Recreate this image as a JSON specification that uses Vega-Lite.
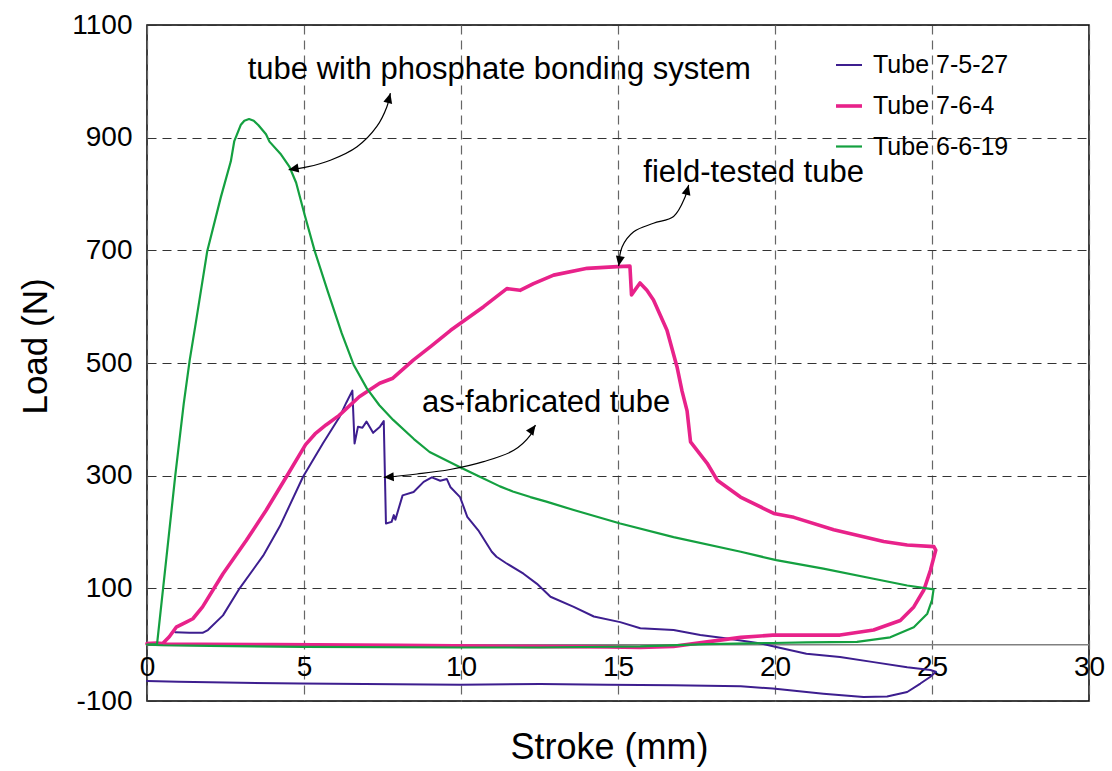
{
  "$schema": "https://vega.github.io/schema/vega-lite/v6.json",
  "width": 942,
  "height": 676,
  "autosize": {"type": "none"},
  "padding": {"left": 147, "top": 25, "right": 23, "bottom": 70},
  "background": "white",
  "config": {
    "font": "Liberation Sans",
    "view": {"stroke": "black", "strokeWidth": 1.5}
  },
  "datasets": {
    "curves": [
      {"tube": "Tube 7-5-27", "stroke": 0.90, "load": 22},
      {"tube": "Tube 7-5-27", "stroke": 1.35, "load": 21},
      {"tube": "Tube 7-5-27", "stroke": 1.77, "load": 21},
      {"tube": "Tube 7-5-27", "stroke": 1.94, "load": 26},
      {"tube": "Tube 7-5-27", "stroke": 2.42, "load": 52},
      {"tube": "Tube 7-5-27", "stroke": 2.95, "load": 100},
      {"tube": "Tube 7-5-27", "stroke": 3.70, "load": 158},
      {"tube": "Tube 7-5-27", "stroke": 4.23, "load": 210},
      {"tube": "Tube 7-5-27", "stroke": 4.97, "load": 298},
      {"tube": "Tube 7-5-27", "stroke": 5.60, "load": 357},
      {"tube": "Tube 7-5-27", "stroke": 6.13, "load": 404},
      {"tube": "Tube 7-5-27", "stroke": 6.35, "load": 430},
      {"tube": "Tube 7-5-27", "stroke": 6.54, "load": 451},
      {"tube": "Tube 7-5-27", "stroke": 6.61, "load": 357},
      {"tube": "Tube 7-5-27", "stroke": 6.72, "load": 387},
      {"tube": "Tube 7-5-27", "stroke": 6.86, "load": 385},
      {"tube": "Tube 7-5-27", "stroke": 6.99, "load": 396},
      {"tube": "Tube 7-5-27", "stroke": 7.20, "load": 376},
      {"tube": "Tube 7-5-27", "stroke": 7.42, "load": 387},
      {"tube": "Tube 7-5-27", "stroke": 7.54, "load": 397},
      {"tube": "Tube 7-5-27", "stroke": 7.61, "load": 215},
      {"tube": "Tube 7-5-27", "stroke": 7.79, "load": 218},
      {"tube": "Tube 7-5-27", "stroke": 7.86, "load": 230},
      {"tube": "Tube 7-5-27", "stroke": 7.91, "load": 222},
      {"tube": "Tube 7-5-27", "stroke": 8.14, "load": 265},
      {"tube": "Tube 7-5-27", "stroke": 8.49, "load": 271},
      {"tube": "Tube 7-5-27", "stroke": 8.81, "load": 289},
      {"tube": "Tube 7-5-27", "stroke": 9.07, "load": 297},
      {"tube": "Tube 7-5-27", "stroke": 9.34, "load": 291},
      {"tube": "Tube 7-5-27", "stroke": 9.55, "load": 294},
      {"tube": "Tube 7-5-27", "stroke": 9.66, "load": 280},
      {"tube": "Tube 7-5-27", "stroke": 9.97, "load": 262},
      {"tube": "Tube 7-5-27", "stroke": 10.20, "load": 227},
      {"tube": "Tube 7-5-27", "stroke": 10.55, "load": 203},
      {"tube": "Tube 7-5-27", "stroke": 10.98, "load": 165},
      {"tube": "Tube 7-5-27", "stroke": 11.13, "load": 156},
      {"tube": "Tube 7-5-27", "stroke": 11.43, "load": 145},
      {"tube": "Tube 7-5-27", "stroke": 11.99, "load": 126},
      {"tube": "Tube 7-5-27", "stroke": 12.42, "load": 108},
      {"tube": "Tube 7-5-27", "stroke": 12.85, "load": 85},
      {"tube": "Tube 7-5-27", "stroke": 13.59, "load": 67},
      {"tube": "Tube 7-5-27", "stroke": 14.23, "load": 50},
      {"tube": "Tube 7-5-27", "stroke": 15.07, "load": 40},
      {"tube": "Tube 7-5-27", "stroke": 15.71, "load": 29},
      {"tube": "Tube 7-5-27", "stroke": 16.77, "load": 26},
      {"tube": "Tube 7-5-27", "stroke": 17.62, "load": 17},
      {"tube": "Tube 7-5-27", "stroke": 18.48, "load": 11},
      {"tube": "Tube 7-5-27", "stroke": 19.55, "load": 2},
      {"tube": "Tube 7-5-27", "stroke": 20.04, "load": -4},
      {"tube": "Tube 7-5-27", "stroke": 21.00, "load": -16},
      {"tube": "Tube 7-5-27", "stroke": 22.07, "load": -22},
      {"tube": "Tube 7-5-27", "stroke": 23.14, "load": -31},
      {"tube": "Tube 7-5-27", "stroke": 24.21, "load": -40},
      {"tube": "Tube 7-5-27", "stroke": 24.95, "load": -45},
      {"tube": "Tube 7-5-27", "stroke": 25.12, "load": -48},
      {"tube": "Tube 7-5-27", "stroke": 24.95, "load": -57},
      {"tube": "Tube 7-5-27", "stroke": 24.63, "load": -69},
      {"tube": "Tube 7-5-27", "stroke": 24.21, "load": -84},
      {"tube": "Tube 7-5-27", "stroke": 23.57, "load": -92},
      {"tube": "Tube 7-5-27", "stroke": 22.82, "load": -93},
      {"tube": "Tube 7-5-27", "stroke": 21.54, "load": -87},
      {"tube": "Tube 7-5-27", "stroke": 19.93, "load": -78},
      {"tube": "Tube 7-5-27", "stroke": 18.91, "load": -74},
      {"tube": "Tube 7-5-27", "stroke": 16.77, "load": -72},
      {"tube": "Tube 7-5-27", "stroke": 14.66, "load": -71},
      {"tube": "Tube 7-5-27", "stroke": 12.52, "load": -70},
      {"tube": "Tube 7-5-27", "stroke": 9.97, "load": -71},
      {"tube": "Tube 7-5-27", "stroke": 4.88, "load": -69},
      {"tube": "Tube 7-5-27", "stroke": 1.00, "load": -66},
      {"tube": "Tube 7-5-27", "stroke": 0.00, "load": -64.5},

      {"tube": "Tube 7-6-4", "stroke": 0.00, "load": 2},
      {"tube": "Tube 7-6-4", "stroke": 0.30, "load": 3},
      {"tube": "Tube 7-6-4", "stroke": 0.50, "load": 2},
      {"tube": "Tube 7-6-4", "stroke": 0.71, "load": 14},
      {"tube": "Tube 7-6-4", "stroke": 0.93, "load": 31},
      {"tube": "Tube 7-6-4", "stroke": 1.25, "load": 40},
      {"tube": "Tube 7-6-4", "stroke": 1.46, "load": 46},
      {"tube": "Tube 7-6-4", "stroke": 1.77, "load": 67},
      {"tube": "Tube 7-6-4", "stroke": 2.42, "load": 126},
      {"tube": "Tube 7-6-4", "stroke": 3.16, "load": 185},
      {"tube": "Tube 7-6-4", "stroke": 3.80, "load": 239},
      {"tube": "Tube 7-6-4", "stroke": 4.44, "load": 298},
      {"tube": "Tube 7-6-4", "stroke": 5.05, "load": 355},
      {"tube": "Tube 7-6-4", "stroke": 5.35, "load": 374},
      {"tube": "Tube 7-6-4", "stroke": 5.70, "load": 390},
      {"tube": "Tube 7-6-4", "stroke": 6.12, "load": 407},
      {"tube": "Tube 7-6-4", "stroke": 6.76, "load": 440},
      {"tube": "Tube 7-6-4", "stroke": 7.41, "load": 464},
      {"tube": "Tube 7-6-4", "stroke": 7.83, "load": 473},
      {"tube": "Tube 7-6-4", "stroke": 8.48, "load": 505},
      {"tube": "Tube 7-6-4", "stroke": 9.05, "load": 530},
      {"tube": "Tube 7-6-4", "stroke": 9.67, "load": 558},
      {"tube": "Tube 7-6-4", "stroke": 10.72, "load": 600},
      {"tube": "Tube 7-6-4", "stroke": 11.46, "load": 632},
      {"tube": "Tube 7-6-4", "stroke": 11.88, "load": 629},
      {"tube": "Tube 7-6-4", "stroke": 12.31, "load": 641},
      {"tube": "Tube 7-6-4", "stroke": 12.95, "load": 656},
      {"tube": "Tube 7-6-4", "stroke": 14.02, "load": 668},
      {"tube": "Tube 7-6-4", "stroke": 14.98, "load": 671},
      {"tube": "Tube 7-6-4", "stroke": 15.38, "load": 672},
      {"tube": "Tube 7-6-4", "stroke": 15.43, "load": 621},
      {"tube": "Tube 7-6-4", "stroke": 15.70, "load": 642},
      {"tube": "Tube 7-6-4", "stroke": 15.92, "load": 629},
      {"tube": "Tube 7-6-4", "stroke": 16.13, "load": 612},
      {"tube": "Tube 7-6-4", "stroke": 16.56, "load": 558},
      {"tube": "Tube 7-6-4", "stroke": 16.88, "load": 493},
      {"tube": "Tube 7-6-4", "stroke": 17.04, "load": 450},
      {"tube": "Tube 7-6-4", "stroke": 17.20, "load": 415},
      {"tube": "Tube 7-6-4", "stroke": 17.31, "load": 360},
      {"tube": "Tube 7-6-4", "stroke": 17.84, "load": 322},
      {"tube": "Tube 7-6-4", "stroke": 18.16, "load": 292},
      {"tube": "Tube 7-6-4", "stroke": 18.90, "load": 262},
      {"tube": "Tube 7-6-4", "stroke": 19.96, "load": 233},
      {"tube": "Tube 7-6-4", "stroke": 20.60, "load": 226},
      {"tube": "Tube 7-6-4", "stroke": 21.87, "load": 204},
      {"tube": "Tube 7-6-4", "stroke": 23.46, "load": 183},
      {"tube": "Tube 7-6-4", "stroke": 24.21, "load": 177},
      {"tube": "Tube 7-6-4", "stroke": 25.06, "load": 174},
      {"tube": "Tube 7-6-4", "stroke": 25.12, "load": 168},
      {"tube": "Tube 7-6-4", "stroke": 24.95, "load": 132},
      {"tube": "Tube 7-6-4", "stroke": 24.74, "load": 97},
      {"tube": "Tube 7-6-4", "stroke": 24.42, "load": 67},
      {"tube": "Tube 7-6-4", "stroke": 23.99, "load": 43},
      {"tube": "Tube 7-6-4", "stroke": 23.14, "load": 26},
      {"tube": "Tube 7-6-4", "stroke": 22.07, "load": 17},
      {"tube": "Tube 7-6-4", "stroke": 20.68, "load": 17},
      {"tube": "Tube 7-6-4", "stroke": 19.93, "load": 17},
      {"tube": "Tube 7-6-4", "stroke": 18.91, "load": 13},
      {"tube": "Tube 7-6-4", "stroke": 17.84, "load": 5},
      {"tube": "Tube 7-6-4", "stroke": 16.77, "load": -3},
      {"tube": "Tube 7-6-4", "stroke": 15.71, "load": -5},
      {"tube": "Tube 7-6-4", "stroke": 14.66, "load": -4},
      {"tube": "Tube 7-6-4", "stroke": 12.00, "load": -3},
      {"tube": "Tube 7-6-4", "stroke": 8.00, "load": -1},
      {"tube": "Tube 7-6-4", "stroke": 4.00, "load": 0},
      {"tube": "Tube 7-6-4", "stroke": 0.00, "load": 1},

      {"tube": "Tube 6-6-19", "stroke": 0.00, "load": 0},
      {"tube": "Tube 6-6-19", "stroke": 0.32, "load": 1},
      {"tube": "Tube 6-6-19", "stroke": 0.61, "load": 150},
      {"tube": "Tube 6-6-19", "stroke": 0.90, "load": 300},
      {"tube": "Tube 6-6-19", "stroke": 1.17, "load": 428},
      {"tube": "Tube 6-6-19", "stroke": 1.36, "load": 505},
      {"tube": "Tube 6-6-19", "stroke": 1.55, "load": 570},
      {"tube": "Tube 6-6-19", "stroke": 1.92, "load": 699},
      {"tube": "Tube 6-6-19", "stroke": 2.35, "load": 794},
      {"tube": "Tube 6-6-19", "stroke": 2.67, "load": 858},
      {"tube": "Tube 6-6-19", "stroke": 2.78, "load": 894},
      {"tube": "Tube 6-6-19", "stroke": 2.86, "load": 905},
      {"tube": "Tube 6-6-19", "stroke": 2.99, "load": 923},
      {"tube": "Tube 6-6-19", "stroke": 3.10, "load": 930},
      {"tube": "Tube 6-6-19", "stroke": 3.25, "load": 933},
      {"tube": "Tube 6-6-19", "stroke": 3.40, "load": 930},
      {"tube": "Tube 6-6-19", "stroke": 3.55, "load": 922},
      {"tube": "Tube 6-6-19", "stroke": 3.79, "load": 906},
      {"tube": "Tube 6-6-19", "stroke": 3.90, "load": 893},
      {"tube": "Tube 6-6-19", "stroke": 4.27, "load": 870},
      {"tube": "Tube 6-6-19", "stroke": 4.54, "load": 848},
      {"tube": "Tube 6-6-19", "stroke": 4.75, "load": 820},
      {"tube": "Tube 6-6-19", "stroke": 5.02, "load": 763},
      {"tube": "Tube 6-6-19", "stroke": 5.34, "load": 699},
      {"tube": "Tube 6-6-19", "stroke": 5.77, "load": 625},
      {"tube": "Tube 6-6-19", "stroke": 6.20, "load": 553},
      {"tube": "Tube 6-6-19", "stroke": 6.58, "load": 497},
      {"tube": "Tube 6-6-19", "stroke": 7.00, "load": 455},
      {"tube": "Tube 6-6-19", "stroke": 7.40, "load": 425},
      {"tube": "Tube 6-6-19", "stroke": 7.84, "load": 399},
      {"tube": "Tube 6-6-19", "stroke": 8.50, "load": 365},
      {"tube": "Tube 6-6-19", "stroke": 9.00, "load": 342},
      {"tube": "Tube 6-6-19", "stroke": 9.97, "load": 315},
      {"tube": "Tube 6-6-19", "stroke": 10.60, "load": 298},
      {"tube": "Tube 6-6-19", "stroke": 11.24, "load": 281},
      {"tube": "Tube 6-6-19", "stroke": 11.65, "load": 272},
      {"tube": "Tube 6-6-19", "stroke": 12.21, "load": 262},
      {"tube": "Tube 6-6-19", "stroke": 12.72, "load": 254},
      {"tube": "Tube 6-6-19", "stroke": 13.59, "load": 239},
      {"tube": "Tube 6-6-19", "stroke": 15.07, "load": 215},
      {"tube": "Tube 6-6-19", "stroke": 16.77, "load": 191},
      {"tube": "Tube 6-6-19", "stroke": 18.91, "load": 165},
      {"tube": "Tube 6-6-19", "stroke": 20.04, "load": 150},
      {"tube": "Tube 6-6-19", "stroke": 21.54, "load": 135},
      {"tube": "Tube 6-6-19", "stroke": 23.14, "load": 117},
      {"tube": "Tube 6-6-19", "stroke": 24.21, "load": 105},
      {"tube": "Tube 6-6-19", "stroke": 25.05, "load": 98},
      {"tube": "Tube 6-6-19", "stroke": 25.00, "load": 79},
      {"tube": "Tube 6-6-19", "stroke": 24.85, "load": 55},
      {"tube": "Tube 6-6-19", "stroke": 24.42, "load": 31},
      {"tube": "Tube 6-6-19", "stroke": 23.67, "load": 13},
      {"tube": "Tube 6-6-19", "stroke": 22.61, "load": 5},
      {"tube": "Tube 6-6-19", "stroke": 21.00, "load": 4},
      {"tube": "Tube 6-6-19", "stroke": 19.93, "load": 3},
      {"tube": "Tube 6-6-19", "stroke": 17.84, "load": 1},
      {"tube": "Tube 6-6-19", "stroke": 15.71, "load": -3},
      {"tube": "Tube 6-6-19", "stroke": 12.52, "load": -5},
      {"tube": "Tube 6-6-19", "stroke": 9.97, "load": -5},
      {"tube": "Tube 6-6-19", "stroke": 5.00, "load": -4},
      {"tube": "Tube 6-6-19", "stroke": 2.00, "load": -2},
      {"tube": "Tube 6-6-19", "stroke": 0.50, "load": -1},
      {"tube": "Tube 6-6-19", "stroke": 0.00, "load": 0}
    ],
    "arrows": [
      {"note": "phosphate", "stroke": 7.75, "load": 979},
      {"note": "phosphate", "stroke": 7.64, "load": 955},
      {"note": "phosphate", "stroke": 7.32, "load": 920},
      {"note": "phosphate", "stroke": 6.69, "load": 884},
      {"note": "phosphate", "stroke": 5.84, "load": 860},
      {"note": "phosphate", "stroke": 5.10, "load": 848},
      {"note": "phosphate", "stroke": 4.51, "load": 843},
      {"note": "field", "stroke": 17.25, "load": 816},
      {"note": "field", "stroke": 17.14, "load": 795},
      {"note": "field", "stroke": 16.77, "load": 760},
      {"note": "field", "stroke": 16.13, "load": 748},
      {"note": "field", "stroke": 15.50, "load": 733},
      {"note": "field", "stroke": 15.13, "load": 706},
      {"note": "field", "stroke": 15.02, "load": 672},
      {"note": "fabricated", "stroke": 12.37, "load": 390},
      {"note": "fabricated", "stroke": 12.21, "load": 372},
      {"note": "fabricated", "stroke": 11.68, "load": 345},
      {"note": "fabricated", "stroke": 10.72, "load": 325},
      {"note": "fabricated", "stroke": 9.65, "load": 311},
      {"note": "fabricated", "stroke": 8.60, "load": 303},
      {"note": "fabricated", "stroke": 7.54, "load": 297}
    ],
    "heads": [
      {"head": "phosphate-top", "stroke": 7.75, "load": 979},
      {"head": "phosphate-end", "stroke": 4.51, "load": 843},
      {"head": "field-top", "stroke": 17.25, "load": 816},
      {"head": "field-end", "stroke": 15.02, "load": 672},
      {"head": "fabricated-top", "stroke": 12.37, "load": 390},
      {"head": "fabricated-end", "stroke": 7.54, "load": 297}
    ],
    "notes": [
      {"label": "tube with phosphate bonding system", "stroke": 11.22, "load": 1004},
      {"label": "field-tested tube", "stroke": 19.32, "load": 822},
      {"label": "as-fabricated tube", "stroke": 12.71, "load": 413}
    ]
  },
  "layer": [
    {
      "data": {"values": [{"load": 0}]},
      "mark": {"type": "rule", "color": "#808080", "strokeWidth": 1.5},
      "encoding": {
        "y": {"field": "load", "type": "quantitative"}
      }
    },
    {
      "data": {"name": "curves"},
      "mark": {"type": "line", "strokeJoin": "round", "strokeCap": "round"},
      "encoding": {
        "x": {
          "field": "stroke",
          "type": "quantitative",
          "scale": {"domain": [0, 30], "nice": false, "zero": false},
          "axis": {
            "values": [0, 5, 10, 15, 20, 25, 30],
            "offset": -56,
            "domain": false,
            "ticks": false,
            "labelPadding": 8,
            "labelFontSize": 28,
            "labelColor": "black",
            "labelOverlap": false,
            "labelBound": false,
            "labelFlush": false,
            "grid": true,
            "gridColor": "#666666",
            "gridDash": [9, 6],
            "gridWidth": 1.2,
            "title": "Stroke (mm)",
            "titleFontSize": 36,
            "titleFontWeight": "normal",
            "titleColor": "black",
            "titleX": 462,
            "titleY": 113,
            "titleBaseline": "alphabetic"
          }
        },
        "y": {
          "field": "load",
          "type": "quantitative",
          "scale": {"domain": [-100, 1100], "nice": false, "zero": false},
          "axis": {
            "values": [-100, 100, 300, 500, 700, 900, 1100],
            "labelExpr": "'' + datum.value",
            "domain": false,
            "ticks": false,
            "labelPadding": 15,
            "labelFontSize": 28,
            "labelColor": "black",
            "labelOverlap": false,
            "labelBound": false,
            "labelFlush": false,
            "grid": true,
            "gridColor": "#333333",
            "gridDash": [9, 6],
            "gridWidth": 1.2,
            "title": "Load (N)",
            "titleFontSize": 35,
            "titleFontWeight": "normal",
            "titleColor": "black",
            "titleAngle": -90,
            "titleX": -112,
            "titleY": 321,
            "titleAlign": "center",
            "titleBaseline": "middle"
          }
        },
        "color": {
          "field": "tube",
          "type": "nominal",
          "scale": {
            "domain": ["Tube 7-5-27", "Tube 7-6-4", "Tube 6-6-19"],
            "range": ["#3D1E8F", "#E8228A", "#14A040"]
          },
          "legend": {
            "title": null,
            "orient": "none",
            "legendX": 687,
            "legendY": 26,
            "padding": 0,
            "symbolType": "stroke",
            "symbolSize": 676,
            "labelFontSize": 25,
            "labelColor": "black",
            "labelOffset": 9,
            "rowPadding": 13
          }
        },
        "strokeWidth": {
          "field": "tube",
          "type": "nominal",
          "scale": {
            "type": "ordinal",
            "domain": ["Tube 7-5-27", "Tube 7-6-4", "Tube 6-6-19"],
            "range": [2, 3.6, 2.2]
          },
          "legend": {
            "title": null,
            "orient": "none",
            "legendX": 687,
            "legendY": 26,
            "padding": 0,
            "symbolType": "stroke",
            "symbolSize": 676,
            "labelFontSize": 25,
            "labelColor": "black",
            "labelOffset": 9,
            "rowPadding": 13
          }
        },
        "order": {"value": null}
      }
    },
    {
      "data": {"name": "arrows"},
      "mark": {"type": "line", "color": "black", "strokeWidth": 1.2, "interpolate": "catmull-rom"},
      "encoding": {
        "x": {"field": "stroke", "type": "quantitative"},
        "y": {"field": "load", "type": "quantitative"},
        "detail": {"field": "note", "type": "nominal"},
        "order": {"value": null}
      }
    },
    {
      "data": {"name": "heads"},
      "transform": [{"filter": "datum.head === 'phosphate-top' || datum.head === 'field-top'"}],
      "mark": {"type": "point", "shape": "M0,0L-0.45,1L0.45,1Z", "filled": true, "color": "black", "opacity": 1, "size": 400, "angle": 15},
      "encoding": {
        "x": {"field": "stroke", "type": "quantitative"},
        "y": {"field": "load", "type": "quantitative"}
      }
    },
    {
      "data": {"name": "heads"},
      "transform": [{"filter": "datum.head === 'fabricated-top'"}],
      "mark": {"type": "point", "shape": "M0,0L-0.45,1L0.45,1Z", "filled": true, "color": "black", "opacity": 1, "size": 400, "angle": 35},
      "encoding": {
        "x": {"field": "stroke", "type": "quantitative"},
        "y": {"field": "load", "type": "quantitative"}
      }
    },
    {
      "data": {"name": "heads"},
      "transform": [{"filter": "datum.head === 'phosphate-end'"}],
      "mark": {"type": "point", "shape": "M0,0L-0.45,1L0.45,1Z", "filled": true, "color": "black", "opacity": 1, "size": 400, "angle": 260},
      "encoding": {
        "x": {"field": "stroke", "type": "quantitative"},
        "y": {"field": "load", "type": "quantitative"}
      }
    },
    {
      "data": {"name": "heads"},
      "transform": [{"filter": "datum.head === 'fabricated-end'"}],
      "mark": {"type": "point", "shape": "M0,0L-0.45,1L0.45,1Z", "filled": true, "color": "black", "opacity": 1, "size": 400, "angle": 266},
      "encoding": {
        "x": {"field": "stroke", "type": "quantitative"},
        "y": {"field": "load", "type": "quantitative"}
      }
    },
    {
      "data": {"name": "heads"},
      "transform": [{"filter": "datum.head === 'field-end'"}],
      "mark": {"type": "point", "shape": "M0,0L-0.45,1L0.45,1Z", "filled": true, "color": "black", "opacity": 1, "size": 400, "angle": 190},
      "encoding": {
        "x": {"field": "stroke", "type": "quantitative"},
        "y": {"field": "load", "type": "quantitative"}
      }
    },
    {
      "data": {"name": "notes"},
      "mark": {"type": "text", "fontSize": 31, "align": "center", "baseline": "alphabetic", "color": "black"},
      "encoding": {
        "x": {"field": "stroke", "type": "quantitative"},
        "y": {"field": "load", "type": "quantitative"},
        "text": {"field": "label", "type": "nominal"}
      }
    }
  ]
}
